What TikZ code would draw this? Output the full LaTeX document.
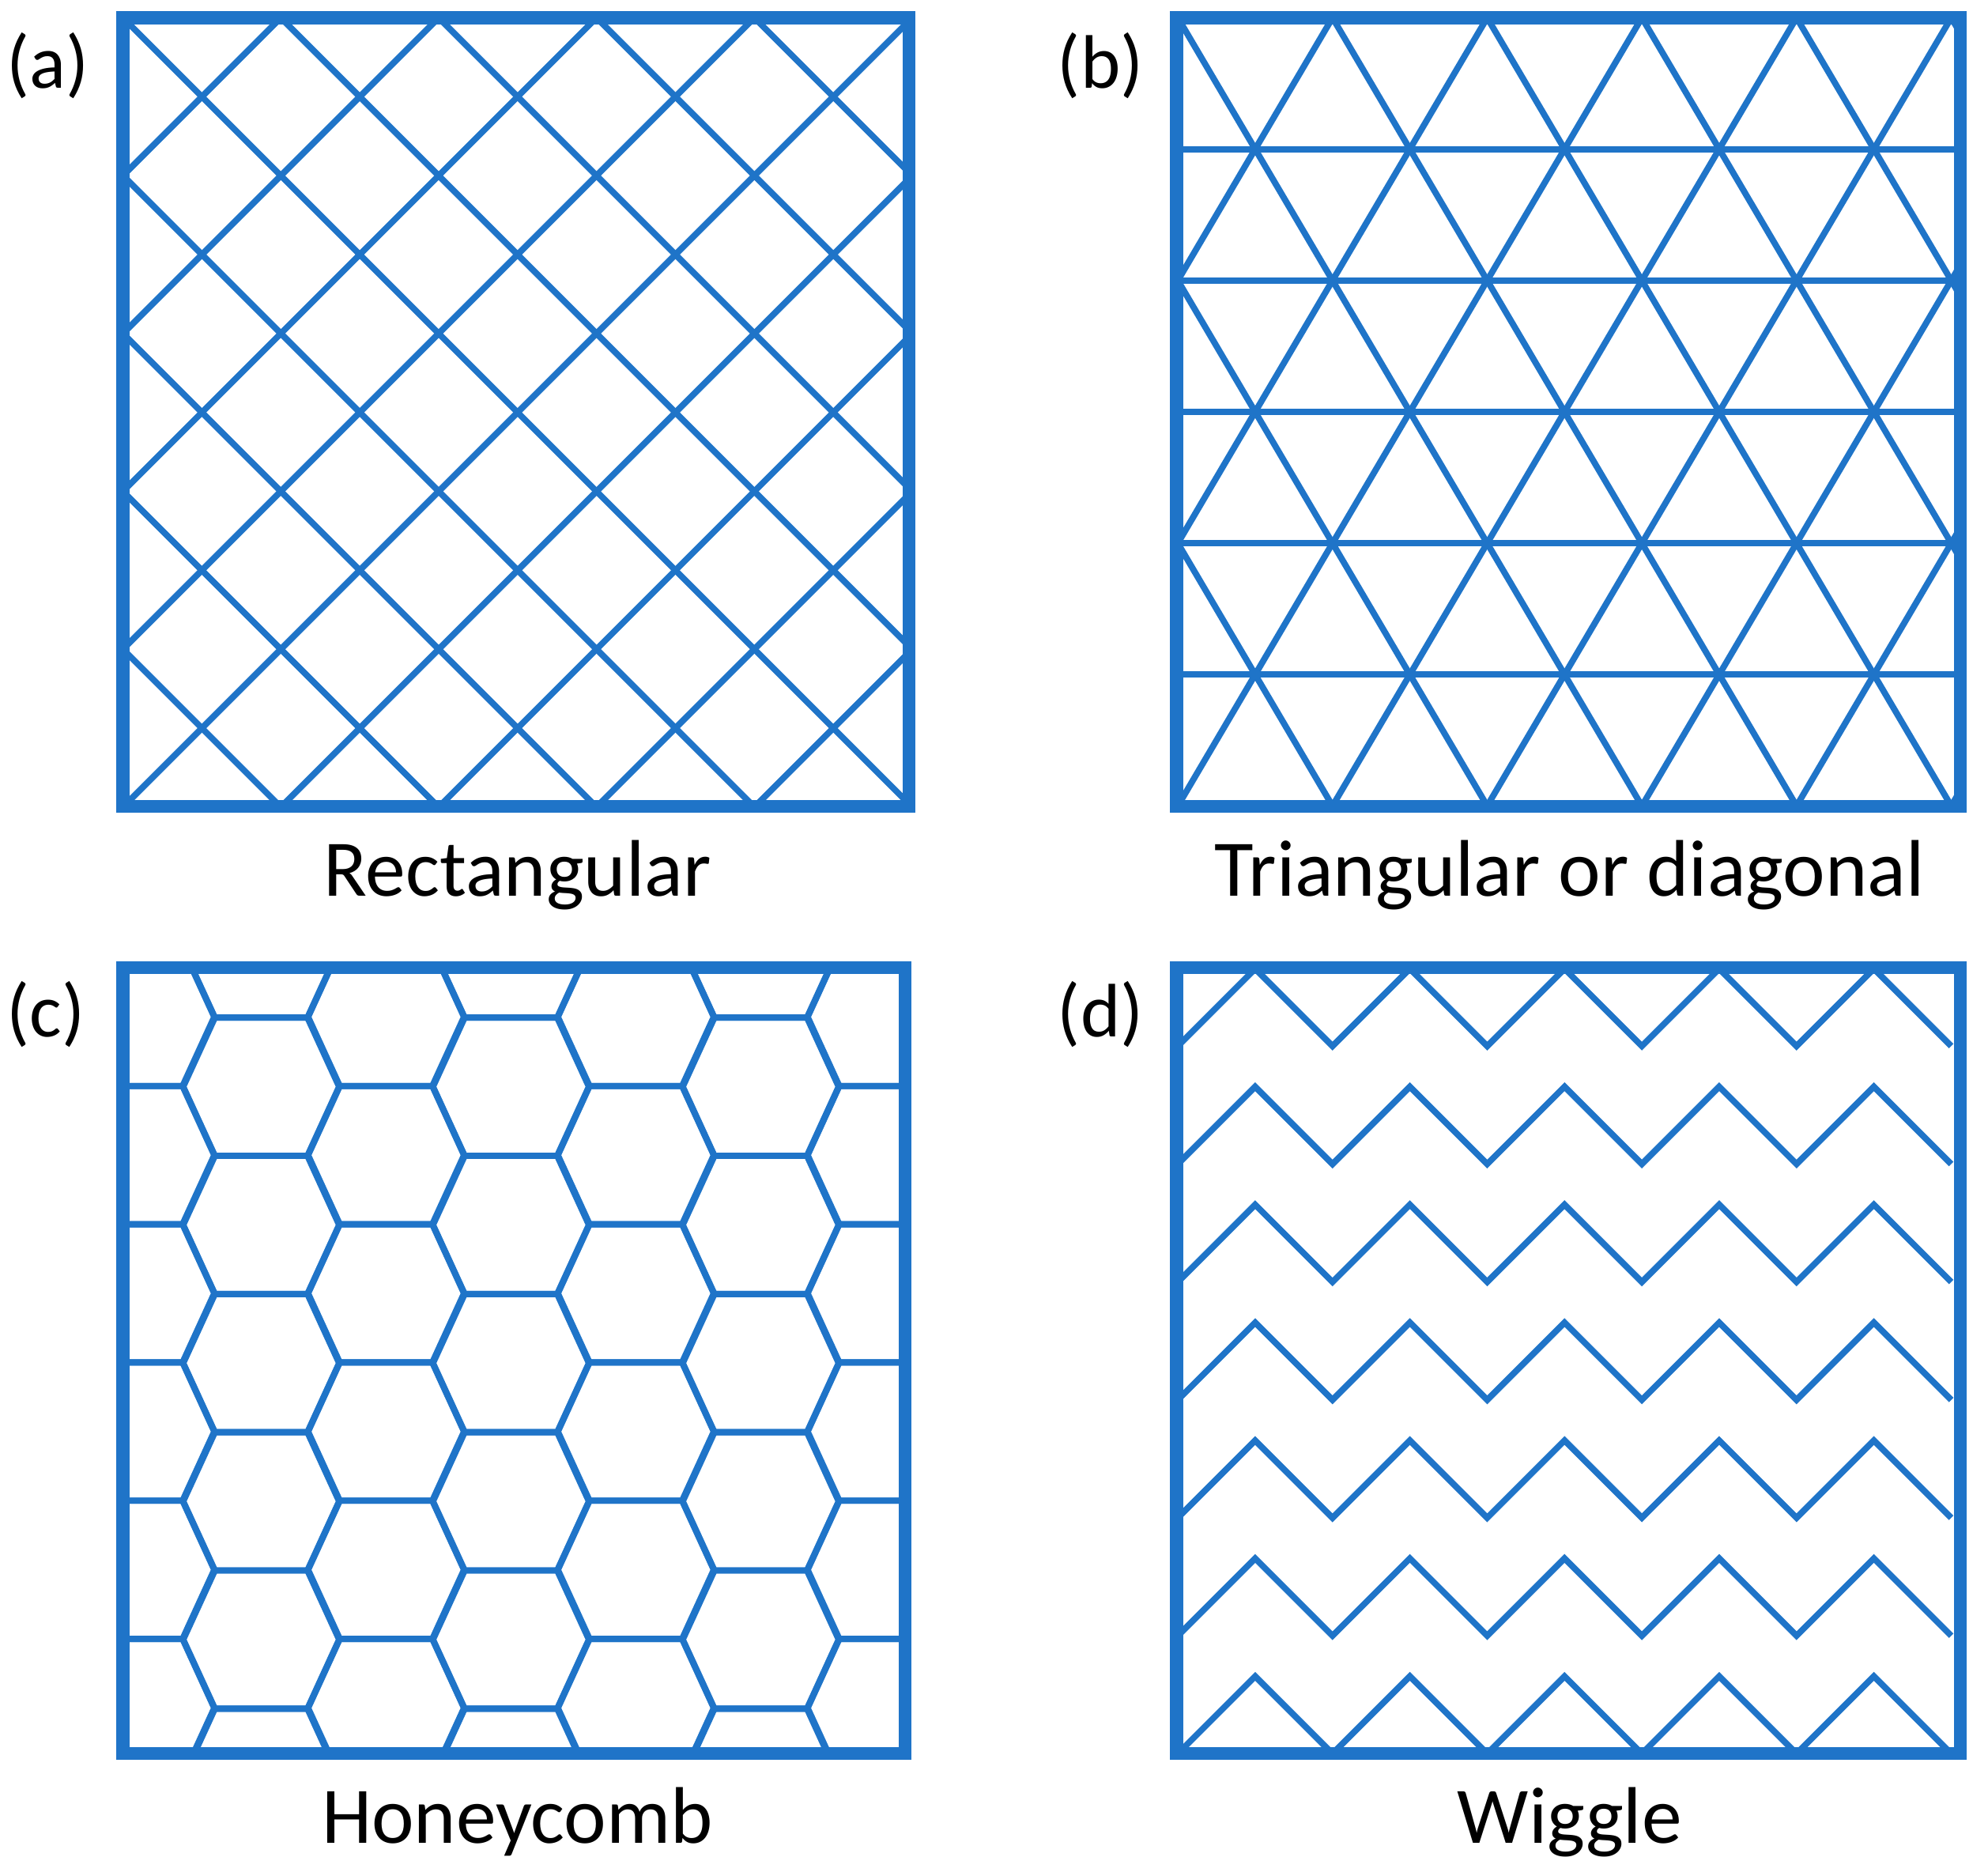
\documentclass[tikz,border=0pt]{standalone}
\usepackage{fontspec}
\setmainfont{Carlito}
\usepackage{xcolor}
\definecolor{meshblue}{HTML}{1F74C8}
\usetikzlibrary{positioning}

\begin{document}
\begin{tikzpicture}[
        x=0.01cm, y=-0.01cm,
        frame/.style={draw=meshblue, line width=2.9pt},
        mesh/.style={draw=meshblue, line width=1.4pt},
        tag/.style={font=\fontsize{17}{20}\selectfont, inner sep=0pt},
        caption/.style={font=\fontsize{18}{22}\selectfont, inner sep=0pt}
    ]
        \useasboundingbox (0,0) rectangle (1568,1479);

        % (a) Rectangular
        \begin{scope}
            \clip (97,14) rectangle (717,636);
            \foreach \k in {-6,...,12} {
                \draw[mesh] ({97+124.5*\k},14) -- ++(700,700);
                \draw[mesh] ({97+124.5*\k},14) -- ++(-700,700);
            }
        \end{scope}
        \draw[frame] (97,14) rectangle (717,636);

        % (b) Triangular
        \begin{scope}
            \clip (928,14) rectangle (1546,636);
            \foreach \j in {1,...,5}
                \draw[mesh] (928,{14+103.6*\j}) -- (1546,{14+103.6*\j});
            \foreach \k in {-6,...,12} {
                \draw[mesh] ({929+122*\k},14) -- ++(366,621.6);
                \draw[mesh] ({929+122*\k},14) -- ++(-366,621.6);
            }
        \end{scope}
        \draw[frame] (928,14) rectangle (1546,636);

        % (c) Honeycomb
        \begin{scope}
            \clip (97,763) rectangle (714,1383);
            \foreach \k in {-1,...,3} {
                \foreach \m in {-1,...,6}
                    \draw[mesh] ({206+197*\k},{857+109*\m}) +(-36.5,-54.5) -- +(36.5,-54.5) -- +(61.5,0)
                        -- +(36.5,54.5) -- +(-36.5,54.5) -- +(-61.5,0) -- cycle;
                \foreach \m in {-2,...,5}
                    \draw[mesh] ({304.5+197*\k},{911+109*\m}) +(-36.5,-54.5) -- +(36.5,-54.5) -- +(61.5,0)
                        -- +(36.5,54.5) -- +(-36.5,54.5) -- +(-61.5,0) -- cycle;
            }
        \end{scope}
        \draw[frame] (97,763) rectangle (714,1383);

        % (d) Wiggle
        \begin{scope}
            \clip (928,763) rectangle (1546,1383);
            \foreach \i in {0,...,6} {
                \pgfmathsetmacro{\yp}{764+93*\i}
                \draw[mesh] (929,{\yp+61})
                    \foreach \j in {1,...,10} { -- ({929+61*\j},{\yp+61*mod(\j+1,2)}) };
            }
        \end{scope}
        \draw[frame] (928,763) rectangle (1546,1383);

        % labels
        \node[tag] (taga) at (38,52) {(a)};
        \node[tag] (tagb) at (868,52) {(b)};
        \node[tag] (tagc) at (36,800) {(c)};
        \node[tag] (tagd) at (868,800) {(d)};
        \node[caption] (capa) at (408,690) {Rectangular};
        \node[caption] (capb) at (1238,690) {Triangular or diagonal};
        \node[caption] (capc) at (408,1437) {Honeycomb};
        \node[caption] (capd) at (1238,1437) {Wiggle};

    \end{tikzpicture}
\end{document}
